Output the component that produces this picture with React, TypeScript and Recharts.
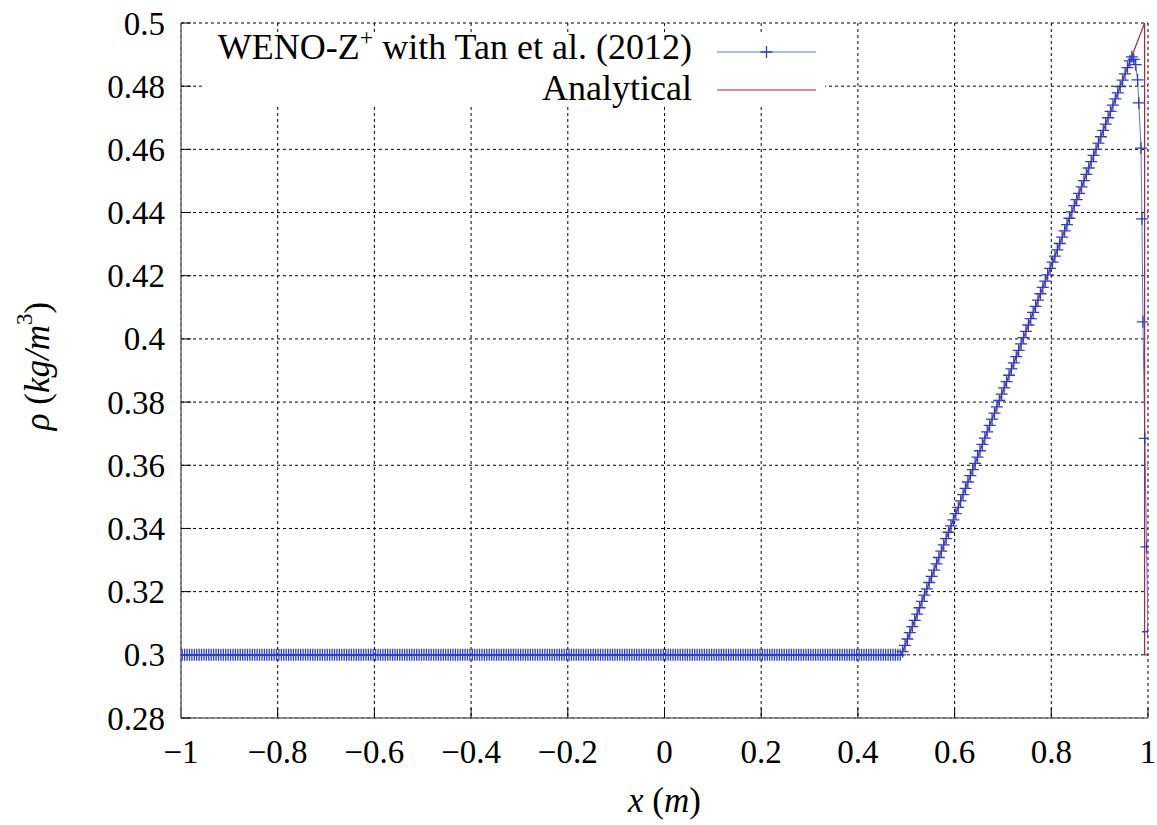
import React from 'react';
import { LineChart, Line, XAxis, YAxis, CartesianGrid, Legend } from 'recharts';

const FONT = '"Liberation Serif", "Times New Roman", serif';
const BLUE_LINE = '#5b74e4';
const BLUE_MARK = '#2a3ecf';
const RED = '#b8203c';

const numericalName = 'WENO-Z⁺ with Tan et al. (2012)';
const analyticalName = 'Analytical';

const xTicks = [-1, -0.8, -0.6, -0.4, -0.2, 0, 0.2, 0.4, 0.6, 0.8, 1];
const xTickLabels = ['−1', '−0.8', '−0.6', '−0.4', '−0.2', '0', '0.2', '0.4', '0.6', '0.8', '1'];
const yTicks = [0.28, 0.3, 0.32, 0.34, 0.36, 0.38, 0.4, 0.42, 0.44, 0.46, 0.48, 0.5];
const yTickLabels = ['0.28', '0.3', '0.32', '0.34', '0.36', '0.38', '0.4', '0.42', '0.44', '0.46', '0.48', '0.5'];

// Numerical solution: cell positions
const numX: number[] = [
  -0.9975,-0.9925,-0.9875,-0.9825,-0.9775,-0.9725,-0.9675,-0.9625,-0.9575,-0.9525,-0.9475,-0.9425,-0.9375,-0.9325,-0.9275,-0.9225,-0.9175,-0.9125,-0.9075,-0.9025,
  -0.8975,-0.8925,-0.8875,-0.8825,-0.8775,-0.8725,-0.8675,-0.8625,-0.8575,-0.8525,-0.8475,-0.8425,-0.8375,-0.8325,-0.8275,-0.8225,-0.8175,-0.8125,-0.8075,-0.8025,
  -0.7975,-0.7925,-0.7875,-0.7825,-0.7775,-0.7725,-0.7675,-0.7625,-0.7575,-0.7525,-0.7475,-0.7425,-0.7375,-0.7325,-0.7275,-0.7225,-0.7175,-0.7125,-0.7075,-0.7025,
  -0.6975,-0.6925,-0.6875,-0.6825,-0.6775,-0.6725,-0.6675,-0.6625,-0.6575,-0.6525,-0.6475,-0.6425,-0.6375,-0.6325,-0.6275,-0.6225,-0.6175,-0.6125,-0.6075,-0.6025,
  -0.5975,-0.5925,-0.5875,-0.5825,-0.5775,-0.5725,-0.5675,-0.5625,-0.5575,-0.5525,-0.5475,-0.5425,-0.5375,-0.5325,-0.5275,-0.5225,-0.5175,-0.5125,-0.5075,-0.5025,
  -0.4975,-0.4925,-0.4875,-0.4825,-0.4775,-0.4725,-0.4675,-0.4625,-0.4575,-0.4525,-0.4475,-0.4425,-0.4375,-0.4325,-0.4275,-0.4225,-0.4175,-0.4125,-0.4075,-0.4025,
  -0.3975,-0.3925,-0.3875,-0.3825,-0.3775,-0.3725,-0.3675,-0.3625,-0.3575,-0.3525,-0.3475,-0.3425,-0.3375,-0.3325,-0.3275,-0.3225,-0.3175,-0.3125,-0.3075,-0.3025,
  -0.2975,-0.2925,-0.2875,-0.2825,-0.2775,-0.2725,-0.2675,-0.2625,-0.2575,-0.2525,-0.2475,-0.2425,-0.2375,-0.2325,-0.2275,-0.2225,-0.2175,-0.2125,-0.2075,-0.2025,
  -0.1975,-0.1925,-0.1875,-0.1825,-0.1775,-0.1725,-0.1675,-0.1625,-0.1575,-0.1525,-0.1475,-0.1425,-0.1375,-0.1325,-0.1275,-0.1225,-0.1175,-0.1125,-0.1075,-0.1025,
  -0.0975,-0.0925,-0.0875,-0.0825,-0.0775,-0.0725,-0.0675,-0.0625,-0.0575,-0.0525,-0.0475,-0.0425,-0.0375,-0.0325,-0.0275,-0.0225,-0.0175,-0.0125,-0.0075,-0.0025,
  0.0025,0.0075,0.0125,0.0175,0.0225,0.0275,0.0325,0.0375,0.0425,0.0475,0.0525,0.0575,0.0625,0.0675,0.0725,0.0775,0.0825,0.0875,0.0925,0.0975,
  0.1025,0.1075,0.1125,0.1175,0.1225,0.1275,0.1325,0.1375,0.1425,0.1475,0.1525,0.1575,0.1625,0.1675,0.1725,0.1775,0.1825,0.1875,0.1925,0.1975,
  0.2025,0.2075,0.2125,0.2175,0.2225,0.2275,0.2325,0.2375,0.2425,0.2475,0.2525,0.2575,0.2625,0.2675,0.2725,0.2775,0.2825,0.2875,0.2925,0.2975,
  0.3025,0.3075,0.3125,0.3175,0.3225,0.3275,0.3325,0.3375,0.3425,0.3475,0.3525,0.3575,0.3625,0.3675,0.3725,0.3775,0.3825,0.3875,0.3925,0.3975,
  0.4025,0.4075,0.4125,0.4175,0.4225,0.4275,0.4325,0.4375,0.4425,0.4475,0.4525,0.4575,0.4625,0.4675,0.4725,0.4775,0.4825,0.4875,
  0.4925,0.4975,
  0.5025,0.5075,0.5125,0.5175,0.5225,0.5275,0.5325,0.5375,0.5425,0.5475,0.5525,0.5575,0.5625,0.5675,0.5725,0.5775,0.5825,0.5875,0.5925,0.5975,
  0.6025,0.6075,0.6125,0.6175,0.6225,0.6275,0.6325,0.6375,0.6425,0.6475,0.6525,0.6575,0.6625,0.6675,0.6725,0.6775,0.6825,0.6875,0.6925,0.6975,
  0.7025,0.7075,0.7125,0.7175,0.7225,0.7275,0.7325,0.7375,0.7425,0.7475,0.7525,0.7575,0.7625,0.7675,0.7725,0.7775,0.7825,0.7875,0.7925,0.7975,
  0.8025,0.8075,0.8125,0.8175,0.8225,0.8275,0.8325,0.8375,0.8425,0.8475,0.8525,0.8575,0.8625,0.8675,0.8725,0.8775,0.8825,0.8875,0.8925,0.8975,
  0.9025,0.9075,0.9125,0.9175,0.9225,0.9275,0.9325,0.9375,0.9425,0.9475,0.9525,0.9575,
  0.9625,0.9665,0.9705,0.9745,0.9785,0.981,0.9855,0.9875,0.9895,0.9935,0.997,1.0,
];

// Numerical solution: density values
const numY: number[] = [
  0.3,0.3,0.3,0.3,0.3,0.3,0.3,0.3,0.3,0.3,0.3,0.3,0.3,0.3,0.3,0.3,0.3,0.3,0.3,0.3,
  0.3,0.3,0.3,0.3,0.3,0.3,0.3,0.3,0.3,0.3,0.3,0.3,0.3,0.3,0.3,0.3,0.3,0.3,0.3,0.3,
  0.3,0.3,0.3,0.3,0.3,0.3,0.3,0.3,0.3,0.3,0.3,0.3,0.3,0.3,0.3,0.3,0.3,0.3,0.3,0.3,
  0.3,0.3,0.3,0.3,0.3,0.3,0.3,0.3,0.3,0.3,0.3,0.3,0.3,0.3,0.3,0.3,0.3,0.3,0.3,0.3,
  0.3,0.3,0.3,0.3,0.3,0.3,0.3,0.3,0.3,0.3,0.3,0.3,0.3,0.3,0.3,0.3,0.3,0.3,0.3,0.3,
  0.3,0.3,0.3,0.3,0.3,0.3,0.3,0.3,0.3,0.3,0.3,0.3,0.3,0.3,0.3,0.3,0.3,0.3,0.3,0.3,
  0.3,0.3,0.3,0.3,0.3,0.3,0.3,0.3,0.3,0.3,0.3,0.3,0.3,0.3,0.3,0.3,0.3,0.3,0.3,0.3,
  0.3,0.3,0.3,0.3,0.3,0.3,0.3,0.3,0.3,0.3,0.3,0.3,0.3,0.3,0.3,0.3,0.3,0.3,0.3,0.3,
  0.3,0.3,0.3,0.3,0.3,0.3,0.3,0.3,0.3,0.3,0.3,0.3,0.3,0.3,0.3,0.3,0.3,0.3,0.3,0.3,
  0.3,0.3,0.3,0.3,0.3,0.3,0.3,0.3,0.3,0.3,0.3,0.3,0.3,0.3,0.3,0.3,0.3,0.3,0.3,0.3,
  0.3,0.3,0.3,0.3,0.3,0.3,0.3,0.3,0.3,0.3,0.3,0.3,0.3,0.3,0.3,0.3,0.3,0.3,0.3,0.3,
  0.3,0.3,0.3,0.3,0.3,0.3,0.3,0.3,0.3,0.3,0.3,0.3,0.3,0.3,0.3,0.3,0.3,0.3,0.3,0.3,
  0.3,0.3,0.3,0.3,0.3,0.3,0.3,0.3,0.3,0.3,0.3,0.3,0.3,0.3,0.3,0.3,0.3,0.3,0.3,0.3,
  0.3,0.3,0.3,0.3,0.3,0.3,0.3,0.3,0.3,0.3,0.3,0.3,0.3,0.3,0.3,0.3,0.3,0.3,0.3,0.3,
  0.3,0.3,0.3,0.3,0.3,0.3,0.3,0.3,0.3,0.3,0.3,0.3,0.3,0.3,0.3,0.3,0.3,0.3,
  0.3010,0.3030,
  0.3050,0.3070,0.3089,0.3109,0.3129,0.3149,0.3169,0.3189,0.3209,0.3229,0.3248,0.3268,0.3288,0.3308,0.3328,0.3348,0.3368,0.3388,0.3408,0.3427,
  0.3447,0.3467,0.3487,0.3507,0.3527,0.3547,0.3567,0.3586,0.3606,0.3626,0.3646,0.3666,0.3686,0.3706,0.3726,0.3746,0.3765,0.3785,0.3805,0.3825,
  0.3845,0.3865,0.3885,0.3905,0.3924,0.3944,0.3964,0.3984,0.4004,0.4024,0.4044,0.4064,0.4084,0.4103,0.4123,0.4143,0.4163,0.4183,0.4203,0.4223,
  0.4243,0.4262,0.4282,0.4302,0.4322,0.4342,0.4362,0.4382,0.4402,0.4422,0.4441,0.4461,0.4481,0.4501,0.4521,0.4541,0.4561,0.4581,0.4600,0.4620,
  0.4640,0.4660,0.4680,0.4700,0.4720,0.4740,0.4760,0.4779,0.4799,0.4819,0.4839,0.4859,
  0.4880,0.4893,0.4885,0.4868,0.4820,0.4747,0.4604,0.4380,0.4054,0.3685,0.3342,0.3073,
];

// Analytical solution
const anaX = [-1, 0.49, 0.993, 0.993, 1];
const anaY = [0.3, 0.3, 0.5, 0.3, 0.3];

const numData = numX.map((x, i) => ({ x, y: numY[i] }));
const anaData = anaX.map((x, i) => ({ x, y: anaY[i] }));

const PlusDot = (props: any) => {
  const { cx, cy, index } = props;
  if (cx == null || cy == null) return <g key={`d${index}`} />;
  return (
    <path
      key={`d${index}`}
      d={`M${cx - 6},${cy}h12M${cx},${cy - 6}v12`}
      stroke={BLUE_MARK}
      strokeWidth={1.3}
      fill="none"
    />
  );
};

const XTick = (props: any) => {
  const { x, y, payload } = props;
  const i = xTicks.indexOf(payload.value);
  return (
    <text x={x} y={y} textAnchor="middle" fontFamily={FONT} fontSize={33} fill="#000">
      {i >= 0 ? xTickLabels[i] : String(payload.value)}
    </text>
  );
};

const YTick = (props: any) => {
  const { x, y, payload } = props;
  const i = yTicks.indexOf(payload.value);
  return (
    <text x={x} y={y} dy="0.35em" textAnchor="end" fontFamily={FONT} fontSize={33} fill="#000">
      {i >= 0 ? yTickLabels[i] : String(payload.value)}
    </text>
  );
};

const LegendBox = () => (
  <div style={{ background: '#fff', width: 620, height: 72 }}>
    <svg width={620} height={72} style={{ display: 'block', overflow: 'visible' }}>
      <text x={487} y={26} textAnchor="end" fontFamily={FONT} fontSize={36} fill="#000">
        WENO-Z<tspan fontSize={24} dy={-14}>+</tspan>
        <tspan dy={14}>{' with Tan et al. (2012)'}</tspan>
      </text>
      <line x1={512} x2={611} y1={19} y2={19} stroke={BLUE_LINE} strokeWidth={1} />
      <path d="M555.5,19h12M561.5,13v12" stroke={BLUE_MARK} strokeWidth={1.3} />
      <text x={487} y={66.5} textAnchor="end" fontFamily={FONT} fontSize={36} fill="#000">
        {analyticalName}
      </text>
      <line x1={512} x2={611} y1={57} y2={57} stroke={RED} strokeWidth={1.2} />
    </svg>
  </div>
);

const XLabel = () => (
  <text x={664.5} y={812} textAnchor="middle" fontFamily={FONT} fontSize={35} fill="#000">
    <tspan fontStyle="italic">x</tspan>
    {' ('}
    <tspan fontStyle="italic">m</tspan>
    {')'}
  </text>
);

const YLabel = () => (
  <text
    transform="translate(37,366) rotate(-90)"
    x={0}
    y={0}
    textAnchor="middle"
    dominantBaseline="central"
    fontFamily={FONT}
    fontSize={35}
    fill="#000"
  >
    <tspan fontStyle="italic">ρ</tspan>
    {' ('}
    <tspan fontStyle="italic">kg/m</tspan>
    <tspan fontSize={23} dy={-13}>3</tspan>
    <tspan dy={13}>)</tspan>
  </text>
);

export default function App() {
  return (
    <div style={{ position: 'absolute', left: 0, top: 0, background: '#fff' }}>
      <LineChart width={1157} height={825} margin={{ top: 23, right: 9, bottom: 57, left: 101 }}>
        <CartesianGrid stroke="#000" strokeDasharray="3 3" strokeWidth={1} />
        <XAxis
          dataKey="x"
          type="number"
          domain={[-1, 1]}
          ticks={xTicks}
          allowDataOverflow
          height={50}
          tickSize={-10}
          tickMargin={55}
          tickLine={{ stroke: '#000', strokeWidth: 1 }}
          axisLine={{ stroke: '#707070', strokeWidth: 1.6 }}
          tick={<XTick />}
          interval={0}
          label={{ content: () => <XLabel /> }}
        />
        <XAxis
          xAxisId="top"
          orientation="top"
          dataKey="x"
          type="number"
          domain={[-1, 1]}
          ticks={xTicks}
          allowDataOverflow
          height={0}
          tickSize={-10}
          tickLine={{ stroke: '#000', strokeWidth: 1 }}
          axisLine={{ stroke: '#707070', strokeWidth: 1.6 }}
          tick={false}
          interval={0}
        />
        <YAxis
          type="number"
          domain={[0.28, 0.5]}
          ticks={yTicks}
          allowDataOverflow
          width={80}
          tickSize={-10}
          tickMargin={26}
          tickLine={{ stroke: '#000', strokeWidth: 1 }}
          axisLine={{ stroke: '#707070', strokeWidth: 1.6 }}
          tick={<YTick />}
          interval={0}
          label={{ content: () => <YLabel /> }}
        />
        <YAxis
          yAxisId="right"
          orientation="right"
          type="number"
          domain={[0.28, 0.5]}
          ticks={yTicks}
          allowDataOverflow
          width={0}
          tickSize={-10}
          tickLine={{ stroke: '#000', strokeWidth: 1 }}
          axisLine={{ stroke: '#707070', strokeWidth: 1.6 }}
          tick={false}
          interval={0}
        />
        <Line
          data={numData}
          dataKey="y"
          name={numericalName}
          type="linear"
          stroke={BLUE_LINE}
          strokeWidth={1}
          dot={PlusDot}
          activeDot={false}
          isAnimationActive={false}
        />
        <Line
          data={anaData}
          dataKey="y"
          name={analyticalName}
          type="linear"
          stroke={RED}
          strokeWidth={1.2}
          dot={false}
          activeDot={false}
          isAnimationActive={false}
        />
        <Legend
          layout="vertical"
          align="center"
          verticalAlign="middle"
          content={() => <LegendBox />}
          wrapperStyle={{ position: 'absolute', left: 205, top: 33, width: 620, height: 72 }}
        />
      </LineChart>
    </div>
  );
}
